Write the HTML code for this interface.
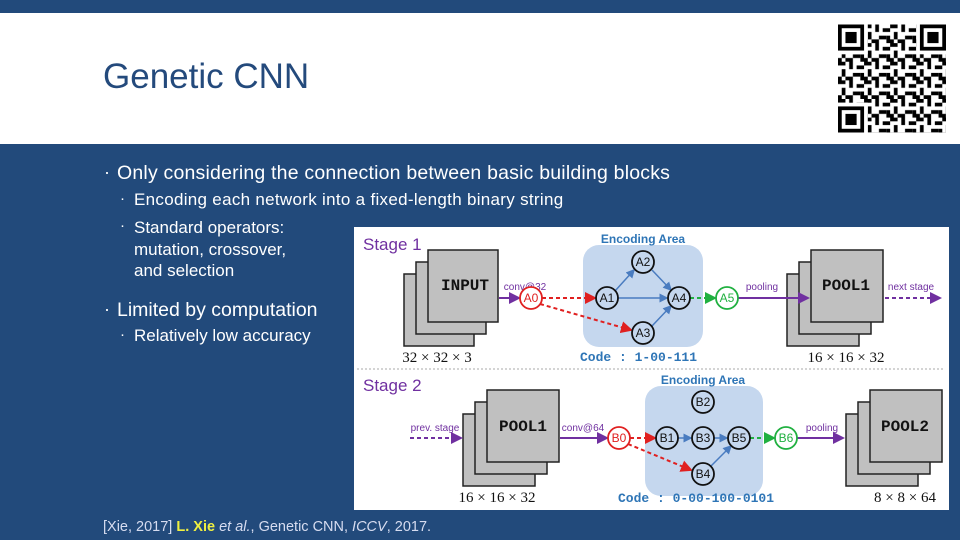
<!DOCTYPE html>
<html><head><meta charset="utf-8"><style>
html,body{margin:0;padding:0}
body{width:960px;height:540px;position:relative;overflow:hidden;background:#224a7b;font-family:"Liberation Sans",sans-serif}
.top{position:absolute;left:0;top:13px;width:960px;height:131px;background:#fff}
.t{position:absolute;color:#fff;white-space:nowrap}
.d{position:absolute;color:#fff}
</style></head><body>
<div class="top"></div>
<div class="t" style="left:103px;top:57px;font-size:35px;color:#244a7c">Genetic CNN</div>
<svg style="position:absolute;left:838px;top:24px" width="108" height="109" viewBox="0 0 29 29">
<defs><pattern id="q" width="7" height="5" patternUnits="userSpaceOnUse">
<rect x="0" y="0" width="2" height="1"/><rect x="3" y="0" width="1" height="2"/><rect x="5" y="1" width="2" height="1"/><rect x="1" y="2" width="1" height="2"/><rect x="4" y="3" width="2" height="1"/><rect x="0" y="4" width="1" height="1"/><rect x="6" y="3" width="1" height="2"/><rect x="2" y="4" width="2" height="1"/></pattern></defs>
<rect width="29" height="29" fill="#fff"/>
<rect width="29" height="29" fill="url(#q)"/>
<g><rect x="0" y="0" width="8" height="8" fill="#fff"/><rect x="21" y="0" width="8" height="8" fill="#fff"/><rect x="0" y="21" width="8" height="8" fill="#fff"/>
<rect x=".5" y=".5" width="6" height="6" fill="none" stroke="#000"/><rect x="2" y="2" width="3" height="3"/>
<rect x="22.5" y=".5" width="6" height="6" fill="none" stroke="#000"/><rect x="24" y="2" width="3" height="3"/>
<rect x=".5" y="22.5" width="6" height="6" fill="none" stroke="#000"/><rect x="2" y="24" width="3" height="3"/></g>
</svg>
<div class="d" style="left:104px;top:162px;font-size:18px">·</div>
<div class="t" style="left:117px;top:162px;font-size:19.5px;letter-spacing:0.2px">Only considering the connection between basic building blocks</div>
<div class="d" style="left:120px;top:190px;font-size:15px">·</div>
<div class="t" style="left:134px;top:190px;font-size:17px;letter-spacing:0.3px">Encoding each network into a fixed-length binary string</div>
<div class="d" style="left:120px;top:217px;font-size:15px">·</div>
<div class="t" style="left:134px;top:217px;font-size:17px;line-height:21.5px">Standard operators:<br>mutation, crossover,<br>and selection</div>
<div class="d" style="left:104px;top:299px;font-size:18px">·</div>
<div class="t" style="left:117px;top:299px;font-size:19.5px">Limited by computation</div>
<div class="d" style="left:120px;top:326px;font-size:15px">·</div>
<div class="t" style="left:134px;top:326px;font-size:17px">Relatively low accuracy</div>
<div class="t" style="left:103px;top:519px;font-size:14.5px;color:#d6dcf0">[Xie, 2017] <b style="color:#f0f040">L. Xie</b> <i>et al.</i>, Genetic CNN, <i>ICCV</i>, 2017.</div>
<svg style="position:absolute;left:0;top:0" width="960" height="540">
<defs>
<marker id="mp" markerWidth="6" markerHeight="6" refX="5" refY="3" orient="auto"><path d="M0,0L6,3L0,6z" fill="#7030a0"/></marker>
<marker id="mr" markerWidth="6" markerHeight="6" refX="5" refY="3" orient="auto"><path d="M0,0L6,3L0,6z" fill="#e02020"/></marker>
<marker id="mb" markerWidth="6" markerHeight="6" refX="5" refY="3" orient="auto"><path d="M0,0L6,3L0,6z" fill="#4a7cc0"/></marker>
<marker id="mg" markerWidth="6" markerHeight="6" refX="5" refY="3" orient="auto"><path d="M0,0L6,3L0,6z" fill="#20b040"/></marker>
</defs>
<rect x="354" y="227" width="595" height="283" fill="#fff"/>
<line x1="357" y1="369" x2="944" y2="369" stroke="#aaa" stroke-dasharray="2,2"/>
<g font-family="Liberation Sans" fill="#7030a0" font-size="17"><text x="363" y="250">Stage 1</text><text x="363" y="391">Stage 2</text></g>
<g fill="#c5d7ee"><rect x="583" y="245" width="120" height="102" rx="16"/><rect x="645" y="386" width="118" height="110" rx="16"/></g>
<g font-family="Liberation Sans" font-weight="bold" font-size="12" fill="#2e75b6" text-anchor="middle"><text x="643" y="243">Encoding Area</text><text x="703" y="384">Encoding Area</text></g>
<g fill="#c0c0c0" stroke="#222" stroke-width="1.5">
<rect x="404" y="274" width="70" height="72"/><rect x="416" y="262" width="70" height="72"/><rect x="428" y="250" width="70" height="72"/>
<rect x="787" y="274" width="72" height="72"/><rect x="799" y="262" width="72" height="72"/><rect x="811" y="250" width="72" height="72"/>
<rect x="463" y="414" width="72" height="72"/><rect x="475" y="402" width="72" height="72"/><rect x="487" y="390" width="72" height="72"/>
<rect x="846" y="414" width="72" height="72"/><rect x="858" y="402" width="72" height="72"/><rect x="870" y="390" width="72" height="72"/>
</g>
<g font-family="Liberation Mono" font-weight="bold" font-size="16" text-anchor="middle" fill="#111">
<text x="465" y="290">INPUT</text><text x="846" y="290">POOL1</text><text x="523" y="431">POOL1</text><text x="905" y="431">POOL2</text></g>
<g font-family="Liberation Serif" font-size="15" text-anchor="middle" fill="#111">
<text x="437" y="362">32 × 32 × 3</text><text x="846" y="362">16 × 16 × 32</text><text x="497" y="502">16 × 16 × 32</text><text x="905" y="502">8 × 8 × 64</text></g>
<g font-family="Liberation Mono" font-weight="bold" font-size="13" fill="#2e75b6">
<text x="580" y="361">Code :  1-00-111</text><text x="618" y="502">Code :  0-00-100-0101</text></g>
<g font-family="Liberation Sans" font-size="10" fill="#7030a0" text-anchor="middle">
<text x="525" y="290">conv@32</text><text x="762" y="290">pooling</text><text x="911" y="290">next stage</text>
<text x="435" y="431">prev. stage</text><text x="583" y="431">conv@64</text><text x="822" y="431">pooling</text></g>
<g stroke-width="2" fill="none">
<line x1="499" y1="298" x2="519" y2="298" stroke="#7030a0" marker-end="url(#mp)"/>
<line x1="738" y1="298" x2="808" y2="298" stroke="#7030a0" marker-end="url(#mp)"/>
<line x1="885" y1="298" x2="940" y2="298" stroke="#7030a0" stroke-dasharray="4,3" marker-end="url(#mp)"/>
<line x1="542" y1="298" x2="595" y2="298" stroke="#e02020" stroke-dasharray="4,3" marker-end="url(#mr)"/>
<line x1="540" y1="304" x2="631" y2="330" stroke="#e02020" stroke-dasharray="4,3" marker-end="url(#mr)"/>
<line x1="690" y1="298" x2="715" y2="298" stroke="#20b040" stroke-dasharray="4,3" marker-end="url(#mg)"/>
<line x1="410" y1="438" x2="461" y2="438" stroke="#7030a0" stroke-dasharray="4,3" marker-end="url(#mp)"/>
<line x1="560" y1="438" x2="607" y2="438" stroke="#7030a0" marker-end="url(#mp)"/>
<line x1="797" y1="438" x2="843" y2="438" stroke="#7030a0" marker-end="url(#mp)"/>
<line x1="630" y1="438" x2="655" y2="438" stroke="#e02020" stroke-dasharray="4,3" marker-end="url(#mr)"/>
<line x1="628" y1="444" x2="691" y2="470" stroke="#e02020" stroke-dasharray="4,3" marker-end="url(#mr)"/>
<line x1="750" y1="438" x2="774" y2="438" stroke="#20b040" stroke-dasharray="4,3" marker-end="url(#mg)"/>
</g>
<g stroke="#4a7cc0" stroke-width="1.5">
<line x1="615" y1="291" x2="634" y2="270" marker-end="url(#mb)"/>
<line x1="652" y1="270" x2="671" y2="290" marker-end="url(#mb)"/>
<line x1="618" y1="298" x2="667" y2="298" marker-end="url(#mb)"/>
<line x1="652" y1="326" x2="671" y2="306" marker-end="url(#mb)"/>
<line x1="678" y1="438" x2="691" y2="438" marker-end="url(#mb)"/>
<line x1="714" y1="438" x2="727" y2="438" marker-end="url(#mb)"/>
<line x1="711" y1="466" x2="731" y2="446" marker-end="url(#mb)"/>
</g>
<g stroke-width="1.8" font-family="Liberation Sans" font-size="12" text-anchor="middle">
<g fill="#fff" stroke="#e02020"><circle cx="531" cy="298" r="11"/><circle cx="619" cy="438" r="11"/></g>
<g fill="#fff" stroke="#20b040"><circle cx="727" cy="298" r="11"/><circle cx="786" cy="438" r="11"/></g>
<g fill="none" stroke="#111"><circle cx="607" cy="298" r="11"/><circle cx="643" cy="262" r="11"/><circle cx="643" cy="333" r="11"/><circle cx="679" cy="298" r="11"/>
<circle cx="667" cy="438" r="11"/><circle cx="703" cy="402" r="11"/><circle cx="703" cy="438" r="11"/><circle cx="703" cy="474" r="11"/><circle cx="739" cy="438" r="11"/></g>
<g stroke="none">
<text x="531" y="302" fill="#e02020">A0</text><text x="619" y="442" fill="#e02020">B0</text>
<text x="727" y="302" fill="#20b040">A5</text><text x="786" y="442" fill="#20b040">B6</text>
<g fill="#111"><text x="607" y="302">A1</text><text x="643" y="266">A2</text><text x="643" y="337">A3</text><text x="679" y="302">A4</text>
<text x="667" y="442">B1</text><text x="703" y="406">B2</text><text x="703" y="442">B3</text><text x="703" y="478">B4</text><text x="739" y="442">B5</text></g></g>
</g>
</svg>
</body></html>
